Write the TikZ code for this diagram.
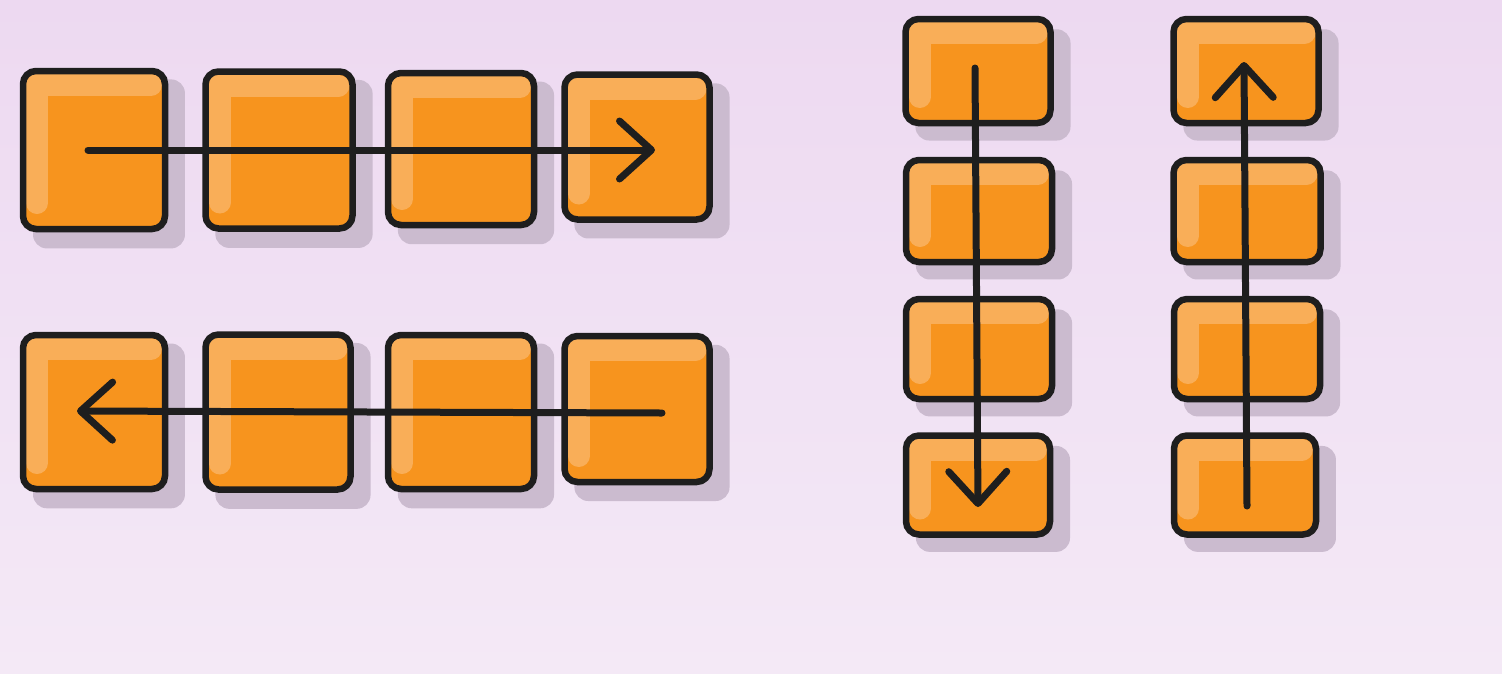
\documentclass[tikz,border=0pt]{standalone}
\usetikzlibrary{arrows.meta,shadows}
\definecolor{bgtop}{HTML}{EDD9F1}
\definecolor{bgbot}{HTML}{F4E9F6}
\definecolor{tileorange}{HTML}{F7941E}
\definecolor{tilelight}{HTML}{F9AE58}
\definecolor{tileshade}{HTML}{CBBBCF}
\definecolor{ink}{HTML}{1E1E1E}
\tikzset{wh/.style 2 args={minimum width=#1pt, minimum height=#2pt}}
\begin{document}
\begin{tikzpicture}[x=1pt, y=-1pt,
    tile/.style={rectangle, draw=ink, line width=6.5pt, fill=tileorange,
      rounded corners=13pt, inner sep=0pt,
      drop shadow={shadow xshift=14pt, shadow yshift=-13pt, shadow scale=1.07,
        fill=tileshade, opacity=1},
      path picture={
        \draw[draw=tilelight, line width=22pt, sharp corners, line join=miter, line cap=round]
          ([shift={(14pt,26pt)}]path picture bounding box.south west)
          |- ([shift={(-14pt,-14pt)}]path picture bounding box.north east);
      }},
    flow/.style={draw=ink, line width=7pt, line cap=round,
      -{Straight Barb[length=32pt, width=58pt, line width=7pt, round]}}
    ]
    \shade[top color=bgtop, bottom color=bgbot] (0,0) rectangle (1502,673);
    \useasboundingbox (0,0) rectangle (1502,673);

    \node[tile, wh={142}{158}] (a1) at (94,150) {};
    \node[tile, wh={147}{157}] (a2) at (279,150) {};
    \node[tile, wh={146}{152}] (a3) at (461,149) {};
    \node[tile, wh={145}{145}] (a4) at (637,147) {};

    \node[tile, wh={142}{154}] (b1) at (94,412) {};
    \node[tile, wh={145}{155}] (b2) at (278,412) {};
    \node[tile, wh={146}{154}] (b3) at (461,412) {};
    \node[tile, wh={145}{146}] (b4) at (637,409) {};

    \node[tile, wh={145}{104}] (c1) at (978,71) {};
    \node[tile, wh={146}{102}] (c2) at (979,211) {};
    \node[tile, wh={146}{100}] (c3) at (979,349) {};
    \node[tile, wh={144}{99}] (c4) at (978,485) {};

    \node[tile, wh={145}{104}] (d1) at (1246,71) {};
    \node[tile, wh={147}{102}] (d2) at (1247,211) {};
    \node[tile, wh={146}{100}] (d3) at (1247,349) {};
    \node[tile, wh={142}{99}] (d4) at (1245,485) {};

    \draw[flow] ([xshift=-6pt]a1.center) -- ([xshift=18pt, yshift=-3pt]a4.center);
    \draw[flow] ([xshift=25pt, yshift=-4pt]b4.center) -- ([xshift=-17pt, yshift=1pt]b1.center);
    \draw[flow] ([xshift=-3pt, yshift=3pt]c1.center) -- ([yshift=-22pt]c4.center);
    \draw[flow] ([xshift=2pt, yshift=-21pt]d4.center) -- ([xshift=-2pt, yshift=9pt]d1.center);
\end{tikzpicture}
\end{document}
